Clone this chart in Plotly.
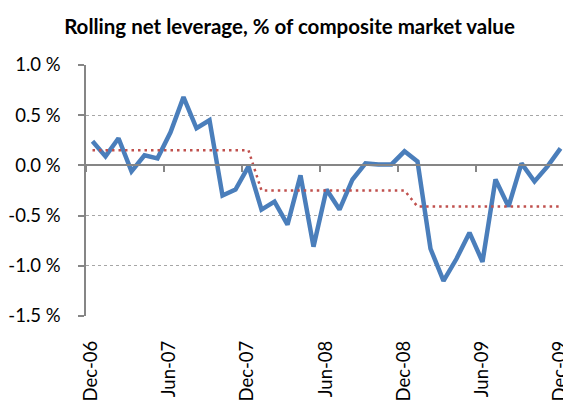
import plotly.graph_objects as go

# monthly observations, Dec-06 .. Dec-09
months = ["Dec-06", "Jan-07", "Feb-07", "Mar-07", "Apr-07", "May-07", "Jun-07",
          "Jul-07", "Aug-07", "Sep-07", "Oct-07", "Nov-07", "Dec-07",
          "Jan-08", "Feb-08", "Mar-08", "Apr-08", "May-08", "Jun-08",
          "Jul-08", "Aug-08", "Sep-08", "Oct-08", "Nov-08", "Dec-08",
          "Jan-09", "Feb-09", "Mar-09", "Apr-09", "May-09", "Jun-09",
          "Jul-09", "Aug-09", "Sep-09", "Oct-09", "Nov-09", "Dec-09"]

# rolling net leverage, % of composite market value
leverage = [0.24, 0.09, 0.27, -0.06, 0.10, 0.07, 0.33, 0.68, 0.37, 0.45, -0.30, -0.24,
            -0.01, -0.44, -0.36, -0.59, -0.10, -0.81, -0.24, -0.44, -0.14, 0.02, 0.01,
            0.01, 0.14, 0.04, -0.83, -1.15, -0.93, -0.67, -0.96, -0.14, -0.41, 0.02,
            -0.16, -0.01, 0.17]

# yearly average level (dotted step)
average = [0.15] * 13 + [-0.25] * 12 + [-0.41] * 12

label_months = ["Dec-06", "Jun-07", "Dec-07", "Jun-08", "Dec-08", "Jun-09", "Dec-09"]
y_ticks = [-1.5, -1.0, -0.5, 0.0, 0.5, 1.0]
y_labels = ["-1.5 %", "-1.0 %", "-0.5 %", "0.0 %", "0.5 %", "1.0 %"]

x = list(range(len(months)))
label_pos = [months.index(m) for m in label_months]
# tick marks sit on the boundaries between months
boundary_pos = [p - 0.5 for p in label_pos[:-1]]
x_range = [-0.5, len(months) - 0.5]
y_range = [-1.5, 1.0]

font = "Lato, 'Liberation Sans', Arial, sans-serif"
axis_grey = "#868686"

fig = go.Figure()
fig.add_trace(go.Scatter(
    x=x, y=average, mode="lines", xaxis="x2",
    line=dict(color="#C0504D", width=2.5, dash="2.5px,4px"),
    hoverinfo="skip", showlegend=False,
))
fig.add_trace(go.Scatter(
    x=x, y=leverage, mode="lines",
    line=dict(color="#4A7EBB", width=4.5),
    showlegend=False,
))

zero_pos = (0 - y_range[0]) / (y_range[1] - y_range[0])

# page body adds an 8px offset, so the figure is sized to fill the rest of the window
fig.update_layout(
    width=563, height=392,
    margin=dict(l=78, r=4, t=57, b=84, autoexpand=False),
    paper_bgcolor="white", plot_bgcolor="white",
    font=dict(family=font, size=18.5, color="black"),
    title=dict(
        text="<b>Rolling net leverage, % of composite market value</b>",
        x=0.5, xanchor="center", y=0.952, yanchor="middle",
        font=dict(family=font, size=20.5, color="black"),
    ),
    xaxis=dict(
        range=x_range, tickmode="array", tickvals=label_pos, ticktext=label_months,
        tickangle=-90, showgrid=False, zeroline=False, showline=False,
        ticks="", ticklabelstandoff=20, ticklabelshift=-1, automargin=False,
        ticklabeloverflow="allow",
        tickfont=dict(size=18.5),
    ),
    xaxis2=dict(
        range=x_range, overlaying="x", anchor="free", position=zero_pos,
        tickmode="array", tickvals=boundary_pos, showticklabels=False,
        ticks="outside", ticklen=6, tickwidth=1.5, tickcolor=axis_grey,
        showline=True, linecolor=axis_grey, linewidth=1.5,
        showgrid=False, zeroline=False,
    ),
    yaxis=dict(
        range=y_range, tickmode="array", tickvals=y_ticks, ticktext=y_labels,
        showgrid=True, gridcolor="#A6A6A6", griddash="dot", gridwidth=1,
        zeroline=False, showline=True, linecolor=axis_grey, linewidth=1.5,
        ticks="outside", ticklen=6, tickwidth=1.5, tickcolor=axis_grey,
        ticklabelstandoff=14, automargin=False,
        tickfont=dict(size=18.5),
    ),
)

fig.write_html("out.html")
